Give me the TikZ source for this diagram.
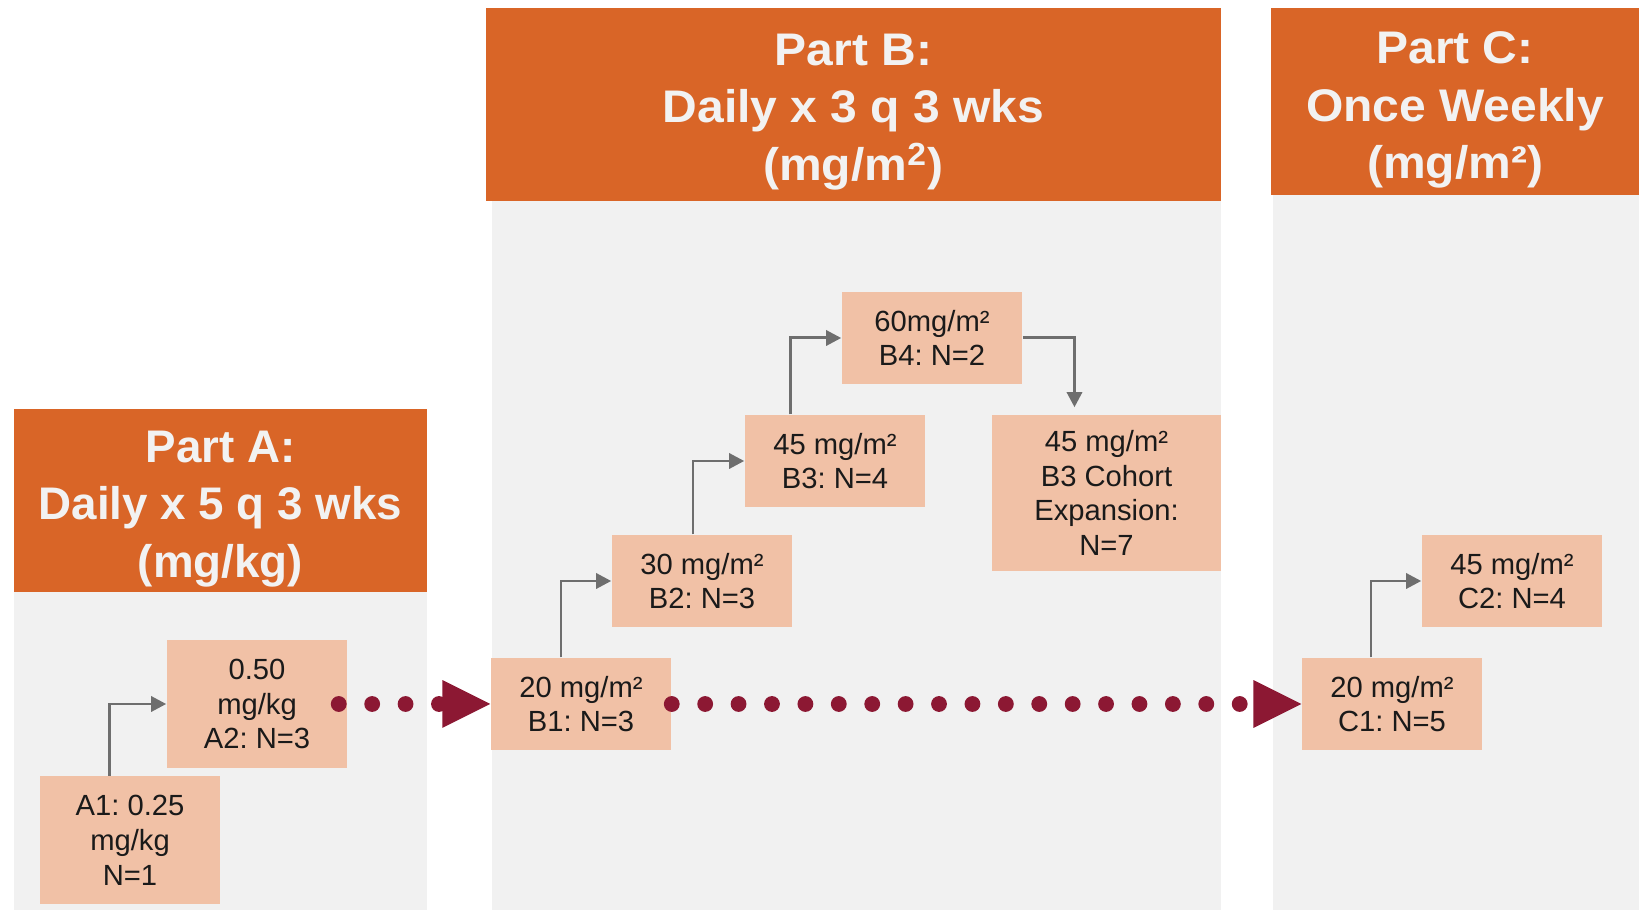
\documentclass[tikz,border=0pt]{standalone}
\usepackage{fontspec}
\setmainfont{Liberation Sans}
\usepackage{tikz}
\usetikzlibrary{positioning, arrows.meta, calc}
\usepackage{xcolor}
\definecolor{headorange}{HTML}{D96527}
\definecolor{headtext}{HTML}{F2F2F2}
\definecolor{panelgray}{HTML}{F1F1F1}
\definecolor{boxpeach}{HTML}{F1C1A6}
\definecolor{boxtext}{HTML}{1A1A1A}
\definecolor{linkgray}{HTML}{6E6E6E}
\definecolor{dosered}{HTML}{8C1833}
\frenchspacing

\begin{document}
\begin{tikzpicture}[
  x=0.01cm, y=-0.01cm,
  header/.style={inner sep=0pt, align=center, text=headtext,
                 font=\fontsize{13}{16.4}\selectfont\bfseries},
  wide/.style={font=\fontsize{13}{16.4}\selectfont\bfseries\addfontfeature{FakeStretch=1.05}},
  dose/.style={fill=boxpeach, inner sep=0pt, minimum width=1.8cm,
               minimum height=0.92cm, align=center, text=boxtext,
               font=\fontsize{8.3}{9.9}\selectfont},
  elbow/.style={-{Triangle[length=4.3pt, width=4.3pt]}, linkgray, line width=0.85pt},
  dotlink/.style={dosered, line width=4.5pt, line cap=round,
                  dash pattern=on 0pt off 9.5pt,
                  -{Triangle[length=13.6pt, width=13.6pt, line width=0pt]}},
]
  \fill[white] (0,0) rectangle (1642,910);
  \useasboundingbox (0,0) rectangle (1642,910);
  % Panels
  \fill[panelgray] (14,592) rectangle (427,910);
  \fill[panelgray] (492,201) rectangle (1221,910);
  \fill[panelgray] (1273,195) rectangle (1639,910);
  \fill[headorange] (14,409) rectangle (427,592);
  \fill[headorange] (486,8) rectangle (1221,201);
  \fill[headorange] (1271,8) rectangle (1639,195);
  % Headers
  \node[header] (headA) at (220.5,509) {Part A:\\Daily x 5 q 3 wks\\(mg/kg)};
  \node[header, wide] (headB) at (853.5,112)
    {Part B:\\Daily x 3 q 3 wks\\(mg/m\textsuperscript{2})};
  \node[header, wide] (headC) at (1455,110) {Part C:\\Once Weekly\\(mg/m²)};
  % Part A doses
  \node[dose, minimum height=1.27cm] (A1) at (130,840) {A1: 0.25\\mg/kg\\N=1};
  \node[dose, minimum height=1.28cm] (A2) at (257,704) {0.50\\mg/kg\\A2: N=3};
  % Part B doses
  \node[dose] (B1) at (581,704) {20 mg/m²\\B1: N=3};
  \node[dose] (B2) at (702,581) {30 mg/m²\\B2: N=3};
  \node[dose] (B3) at (835,461) {45 mg/m²\\B3: N=4};
  \node[dose] (B4) at (932,338) {60mg/m²\\B4: N=2};
  \node[dose, minimum width=2.29cm, minimum height=1.56cm] (B3exp) at (1106.5,493)
    {45 mg/m²\\B3 Cohort\\Expansion:\\N=7};
  % Part C doses
  \node[dose] (C1) at (1392,704) {20 mg/m²\\C1: N=5};
  \node[dose] (C2) at (1512,581) {45 mg/m²\\C2: N=4};
  % Escalation steps
  \draw[elbow] ([xshift=-0.2cm]A1.north) |- (A2.west);
  \draw[elbow] ([xshift=-0.2cm]B1.north) |- (B2.west);
  \draw[elbow] ([xshift=-0.09cm]B2.north) |- (B3.west);
  \draw[elbow] ([xshift=-0.44cm]B3.north) |- (B4.west);
  \draw[elbow, shorten >=0.07cm] (B4.east) -| ([xshift=-0.32cm]B3exp.north);
  \draw[elbow] ([xshift=-0.21cm]C1.north) |- (C2.west);
  % Transitions between parts
  \draw[dotlink] ([xshift=-0.09cm]A2.east) -- (B1.west);
  \draw[dotlink] (B1.east) -- (C1.west);
\end{tikzpicture}
\end{document}
